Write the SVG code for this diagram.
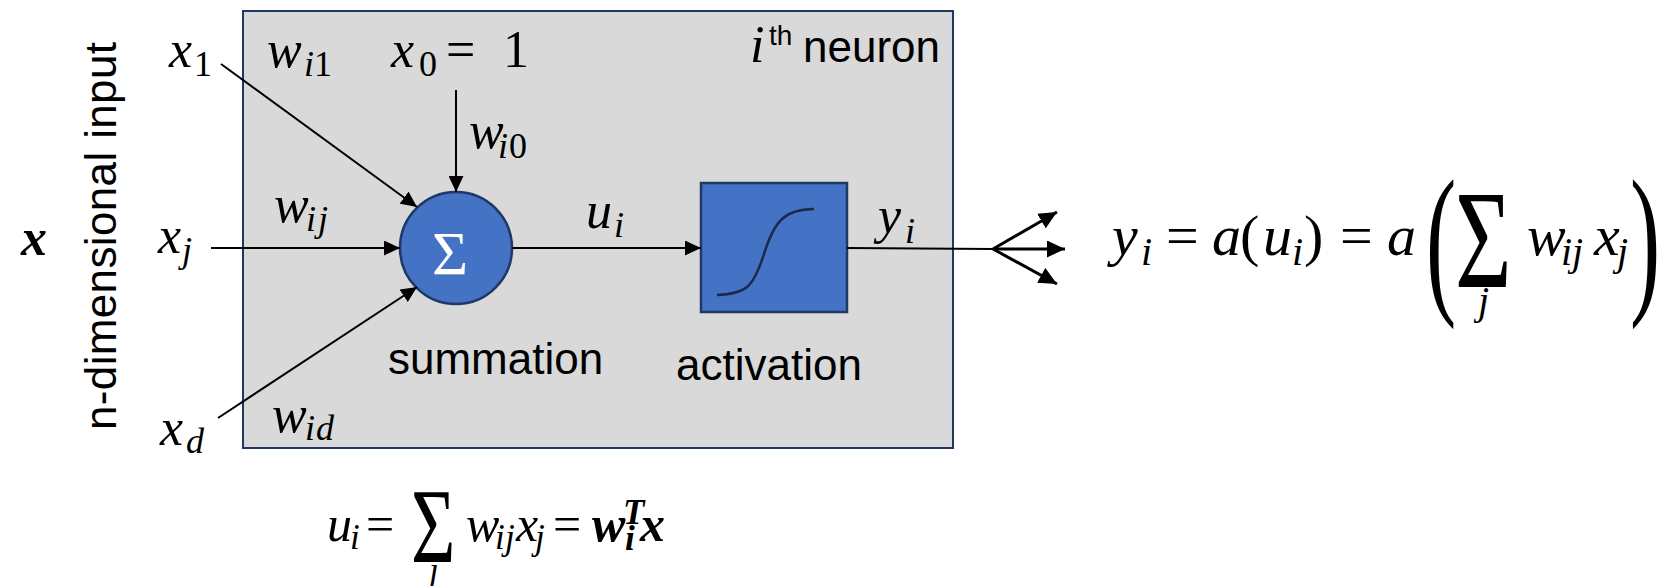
<svg xmlns="http://www.w3.org/2000/svg" width="1673" height="586" viewBox="0 0 1673 586">
<style>
.m{font-family:"Liberation Serif",serif;font-style:italic;fill:#000}
.up{font-style:normal}
.L{font-size:52px}
.Ls{font-size:36px}
.R{font-size:58px}
.Rs{font-size:40px}
.B{font-size:50px}
.Bs{font-size:35px}
.sans{font-family:"Liberation Sans",sans-serif;font-size:44px;fill:#000}
.ln{stroke:#000;stroke-width:2;fill:none}
.fan{stroke:#000;stroke-width:3;fill:none}
</style>
<defs>
<marker id="ah" markerUnits="userSpaceOnUse" markerWidth="16" markerHeight="15" refX="16" refY="7.5" orient="auto">
<path d="M0,0 L16,7.5 L0,15 z" fill="#000"/>
</marker>
<marker id="ahb" markerUnits="userSpaceOnUse" markerWidth="18" markerHeight="17" refX="18" refY="8.5" orient="auto">
<path d="M0,0 L18,8.5 L0,17 z" fill="#000"/>
</marker>
</defs>
<rect width="1673" height="586" fill="#fff"/>

<g id="neuron-box">
<rect x="243" y="11" width="710" height="437" fill="#d9d9d9" stroke="#1f3864" stroke-width="2"/>
<text class="m L" x="750" y="62">i</text>
<text class="sans" x="769" y="45" style="font-size:28px">th</text>
<text class="sans" x="803" y="62">neuron</text>
</g>

<g id="input-label">
<text class="m L" x="21" y="255" font-weight="bold">x</text>
<text class="sans" transform="translate(116,430) rotate(-90)" x="0" y="0" textLength="388" lengthAdjust="spacing">n-dimensional input</text>
</g>

<g id="input-x1"><text class="m L" x="169" y="67">x<tspan class="Ls up" x="194" y="76">1</tspan></text></g>
<g id="input-xj"><text class="m L" x="158" y="253">x<tspan class="Ls" x="182" y="262">j</tspan></text></g>
<g id="input-xd"><text class="m L" x="160" y="445">x<tspan class="Ls" x="186" y="453">d</tspan></text></g>
<g id="input-x0"><text class="m L" x="391" y="67">x<tspan class="Ls up" x="419" y="76">0</tspan><tspan class="up" x="446" y="67">=</tspan><tspan class="up" x="503" y="67">1</tspan></text></g>

<g id="weights">
<text class="m L" x="267" y="67">w<tspan class="Ls" x="304" y="76">i</tspan><tspan class="Ls up" x="314" y="76">1</tspan></text>
<text class="m L" x="469" y="148">w<tspan class="Ls" x="498" y="158">i</tspan><tspan class="Ls up" x="509" y="158">0</tspan></text>
<text class="m L" x="274" y="222">w<tspan class="Ls" x="306" y="231">i</tspan><tspan class="Ls" x="318" y="231">j</tspan></text>
<text class="m L" x="272" y="432">w<tspan class="Ls" x="305" y="440">i</tspan><tspan class="Ls" x="316" y="440">d</tspan></text>
</g>

<g id="summation">
<circle cx="456" cy="248" r="56" fill="#4472c4" stroke="#1f3864" stroke-width="2.5"/>
<text x="450" y="274" text-anchor="middle" style="font-family:'Liberation Serif',serif;font-size:62px;fill:#fff">Σ</text>
<text class="sans" x="388" y="374">summation</text>
</g>

<g id="activation">
<rect x="701" y="183" width="146" height="129" fill="#4472c4" stroke="#1f3864" stroke-width="2.5"/>
<path d="M717,295 C748,294 754,285 764,254 C774,222 784,209 814,209" fill="none" stroke="#1a2a4a" stroke-width="2.5"/>
<text class="sans" x="676" y="380">activation</text>
</g>

<g id="signal-labels">
<text class="m L" x="586" y="228">u<tspan class="Ls" x="614" y="237">i</tspan></text>
<text class="m L" x="878" y="233">y<tspan class="Ls" x="905" y="243">i</tspan></text>
</g>

<g id="connectors">
<line class="ln" x1="221" y1="64" x2="417" y2="207" marker-end="url(#ah)"/>
<line class="ln" x1="211" y1="248" x2="400" y2="248" marker-end="url(#ah)"/>
<line class="ln" x1="218" y1="418" x2="417" y2="287" marker-end="url(#ah)"/>
<line class="ln" x1="456" y1="90" x2="456" y2="192" marker-end="url(#ah)"/>
<line class="ln" x1="512" y1="248" x2="701" y2="248" marker-end="url(#ah)"/>
<line class="ln" x1="847" y1="248" x2="993" y2="249"/>
<line class="fan" x1="993" y1="249" x2="1057" y2="212" marker-end="url(#ahb)"/>
<line class="fan" x1="993" y1="249" x2="1065" y2="249" marker-end="url(#ahb)"/>
<line class="fan" x1="993" y1="249" x2="1057" y2="284" marker-end="url(#ahb)"/>
</g>

<g id="output-equation">
<text class="m R" x="1112" y="255">y<tspan class="Rs" x="1141" y="265">i</tspan><tspan class="up" x="1166" y="255">=</tspan><tspan x="1212" y="255">a</tspan><tspan class="up" x="1240" y="255">(</tspan><tspan x="1263" y="255">u</tspan><tspan class="Rs" x="1292" y="265">i</tspan><tspan class="up" x="1304" y="255">)</tspan><tspan class="up" x="1340" y="255">=</tspan><tspan x="1387" y="255">a</tspan></text>
<text class="m up" transform="translate(1426,294) scale(0.55,1)" style="font-size:165px">(</text>
<text class="m up" transform="translate(1455,287) scale(0.7,1)" style="font-size:139px">Σ</text>
<text class="m Rs" x="1478" y="314">j</text>
<text class="m R" x="1527" y="255">w<tspan class="Rs" x="1561" y="265">i</tspan><tspan class="Rs" x="1572" y="265">j</tspan><tspan x="1594" y="255">x</tspan><tspan class="Rs" x="1617" y="265">j</tspan></text>
<text class="m up" transform="translate(1630,294) scale(0.55,1)" style="font-size:165px">)</text>
</g>

<g id="sum-equation">
<text class="m B" x="327" y="541">u<tspan class="Bs" x="350" y="549">i</tspan><tspan class="up" x="366" y="541">=</tspan></text>
<text class="m up" transform="translate(411,562) scale(0.72,1)" style="font-size:106px">Σ</text>
<text class="m Bs" x="429" y="582">j</text>
<text class="m B" x="466" y="541">w<tspan class="Bs" x="495" y="549">i</tspan><tspan class="Bs" x="505" y="549">j</tspan><tspan x="516" y="541">x</tspan><tspan class="Bs" x="535" y="549">j</tspan><tspan class="up" x="553" y="541">=</tspan><tspan font-weight="bold" x="592" y="541">w</tspan><tspan class="Bs" font-weight="bold" x="623" y="524">T</tspan><tspan class="Bs" font-weight="bold" x="625" y="550">i</tspan><tspan font-weight="bold" x="640" y="541">x</tspan></text>
</g>
</svg>
